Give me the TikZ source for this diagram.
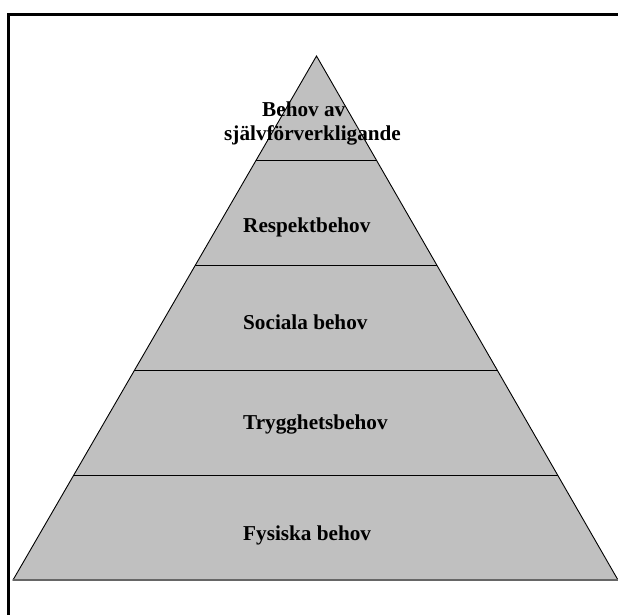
\documentclass[tikz,border=0pt]{standalone}
\usepackage{fontspec}
\setmainfont{Liberation Serif}
\usetikzlibrary{calc}
\tikzset{
  level/.style={fill={rgb,255:red,192;green,192;blue,192}, draw=black, line width=0.9pt, line join=miter},
  divline/.style={draw=black, line width=1pt},
  lbl/.style={inner sep=0pt, anchor=base west, font=\fontsize{21.2}{24}\selectfont\bfseries},
  frameline/.style={draw=black, line width=2.2pt}
}
\begin{document}
\begin{tikzpicture}[x=1pt,y=-1pt]
\useasboundingbox (0,0) rectangle (618,615);
\fill[white] (0,0) rectangle (618,615);
% frame (top and left edges visible)
\coordinate (ftr) at (618,14.5);
\coordinate (ftl) at (8.5,14.5);
\coordinate (fbl) at (8.5,615);
\draw[frameline] (ftr) -- (ftl) -- (fbl);
% pyramid
\coordinate (apex) at (316.5,56);
\coordinate (bl) at (13,580);
\coordinate (br) at (618,580);
\filldraw[level] (apex) -- (bl) -- (br) -- cycle;
\draw[draw=black!60, line width=1.4pt] (bl) -- (br);
\foreach \k in {1,2,3,4}{
  \draw[divline] ($(apex)!\k/5!(bl)$) -- ($(apex)!\k/5!(br)$);
}
% labels
\node[lbl] (t1a) at (262,116.7) {Behov av};
\node[lbl] (t1b) at (224,140.7) {självförverkligande};
\node[lbl] (t2) at (243,232) {Respektbehov};
\node[lbl] (t3) at (243,329) {Sociala behov};
\node[lbl] (t4) at (243,429) {Trygghetsbehov};
\node[lbl] (t5) at (243,540) {Fysiska behov};
\end{tikzpicture}
\end{document}
